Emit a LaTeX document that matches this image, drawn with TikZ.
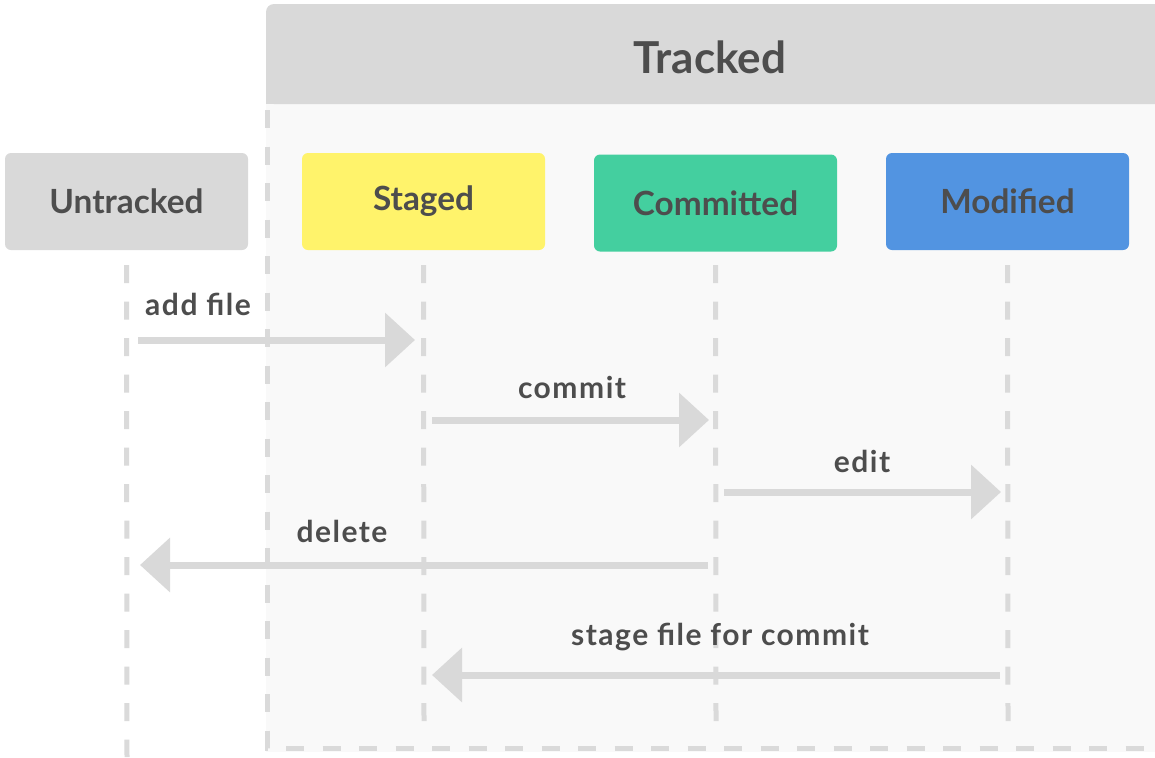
\documentclass[tikz,border=0pt]{standalone}
\usepackage{fontspec}
\setmainfont{Lato}
\newfontfamily\labelfont[LetterSpace=5]{Lato}
\usetikzlibrary{arrows.meta}
\definecolor{ink}{HTML}{4D4D4D}
\definecolor{panel}{HTML}{F9F9F9}
\definecolor{band}{HTML}{D9D9D9}
\definecolor{rail}{HTML}{DADADA}
\definecolor{flow}{HTML}{D9D9D9}
\definecolor{stagedc}{HTML}{FFF36B}
\definecolor{committedc}{HTML}{44CF9F}
\definecolor{modifiedc}{HTML}{5294E1}
\tikzset{
  statebox/.style={rounded corners=6*0.75pt, minimum width=243*0.75pt,
    minimum height=97*0.75pt, inner sep=0pt, text=ink,
    font=\fontsize{25}{30}\selectfont\bfseries},
  lifeline/.style={draw=rail, line width=5*0.75pt, dash pattern=on 18*0.75pt off 18.5*0.75pt},
  flowarrow/.style={draw=flow, line width=7*0.75pt,
    -{Triangle[length=30*0.75pt, width=53*0.75pt, fill=flow]}},
  flowlabel/.style={text=ink, inner sep=0pt, font=\labelfont\fontsize{22.5}{27}\selectfont\bfseries}
}
\begin{document}
\begin{tikzpicture}[x=0.75pt, y=-0.75pt]
  \useasboundingbox (0,0) rectangle (1155,757);
  \fill[white] (0,0) rectangle (1155,757);

  % tracked area: light panel with a grey header band
  \fill[panel] (266,104) rectangle (1155,752);
  \fill[band, rounded corners=8*0.75pt] (266,104) -- (266,4) -- (1170,4) -- (1170,104) -- cycle;
  \fill[band] (266,60) rectangle (1155,104);
  \node[text=ink, font=\fontsize{33}{40}\selectfont\bfseries] (tracked) at (710,57) {Tracked};
  \draw[lifeline] (267,110) -- (267,748) -- (1155,748);

  % state boxes
  \node[statebox, fill=band]       (untracked) at (126.5,201.5) {Untracked};
  \node[statebox, fill=stagedc]    (staged)    at (423.5,201.5) {Staged};
  \node[statebox, fill=committedc] (committed) at (715.5,203)   {Committed};
  \node[statebox, fill=modifiedc]  (modified)  at (1007.5,201.5) {Modified};

  % lifelines
  \coordinate (u-end) at (127,757);
  \coordinate (s-end) at (424,722);
  \coordinate (c-end) at (716,722);
  \coordinate (m-end) at (1008,722);
  \draw[lifeline] (untracked.south |- 0,265) -- (u-end);
  \draw[lifeline] (staged.south |- 0,265) -- (s-end);
  \draw[lifeline] (committed.south |- 0,265) -- (c-end);
  \draw[lifeline] (modified.south |- 0,265) -- (m-end);

  % transition end points on the lifelines
  \coordinate (add-a) at (138,340);
  \coordinate (add-b) at (415,340);
  \coordinate (com-a) at (432,420);
  \coordinate (com-b) at (709,420);
  \coordinate (edit-a) at (724,492);
  \coordinate (edit-b) at (1001,492);
  \coordinate (del-a) at (708,565);
  \coordinate (del-b) at (140,565);
  \coordinate (stg-a) at (1000,675);
  \coordinate (stg-b) at (432,675);

  % transitions
  \draw[flowarrow] (add-a) -- (add-b);
  \draw[flowarrow] (com-a) -- (com-b);
  \draw[flowarrow] (edit-a) -- (edit-b);
  \draw[flowarrow] (del-a) -- (del-b);
  \draw[flowarrow] (stg-a) -- (stg-b);

  % transition labels
  \node[flowlabel] (l-add)  at (198,304) {add file};
  \node[flowlabel] (l-com)  at (572,387) {commit};
  \node[flowlabel] (l-edit) at (862,461) {edit};
  \node[flowlabel] (l-del)  at (342,531) {delete};
  \node[flowlabel] (l-stg)  at (720,637) {stage file for commit};
\end{tikzpicture}
\end{document}
